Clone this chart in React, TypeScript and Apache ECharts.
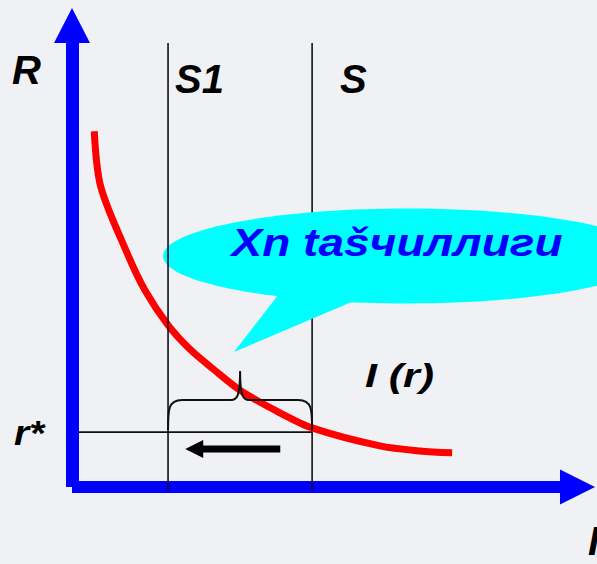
import React, { useEffect, useRef } from "react";
import * as echarts from "echarts";

// Red curve I(r): points in data units (x: 0..10, y: 0..10)
const curveX = [0.44, 0.57, 1.09, 1.44, 1.9, 2.33, 2.79, 3.32, 4.04, 4.75, 6.09, 6.88, 7.52];
const curveY = [7.71, 6.5, 5.07, 4.27, 3.51, 2.99, 2.56, 2.1, 1.65, 1.28, 0.89, 0.78, 0.74];

// Vertical markers S1 and S, and level r*
const markerNames = ["S1", "S"];
const markerX = [1.9, 4.75];
const markerTop = 9.62;
const markerBottom = -0.07;
const rStarLevel = 1.19;
const rStarStart = 0.12;

// Brace between S1 and S: [left, right, endY, barY, tipY]
const braceData = [[1.9, 4.75, 1.235, 1.885, 2.514]];
// Arrow pointing left: [fromX, toX, y]
const arrowData = [[4.12, 2.24, 0.823]];

const axisLabels = { y: "R", x: "I", level: "r*", curve: "I (r)" };
const bubbleText = "Xn tašчиллиги";

const FONT = "Liberation Sans, Arial, sans-serif";

export default function App() {
  const ref = useRef<HTMLDivElement>(null);
  useEffect(() => {
    if (!ref.current) return;
    const chart = echarts.init(ref.current, null, { renderer: "svg" });
    const curveData = curveX.map((x, i) => [x, curveY[i]]);

    const markerSeries = markerNames.map((name, i) => ({
      type: "line",
      name,
      data: [
        [markerX[i], markerBottom],
        [markerX[i], markerTop],
      ],
      symbol: "none",
      clip: false,
      z: name === "S1" ? 10 : 2,
      lineStyle: { color: "#111", width: 1.6 },
      silent: true,
    }));

    const braceSeries = {
      type: "custom",
      z: 4,
      clip: false,
      data: braceData,
      renderItem: (params: any, api: any) => {
        const l = api.coord([api.value(0), api.value(2)]);
        const r = api.coord([api.value(1), api.value(2)]);
        const bar = api.coord([api.value(0), api.value(3)])[1];
        const tip = api.coord([api.value(0), api.value(4)])[1];
        const cx = (l[0] + r[0]) / 2;
        const e = l[1];
        const d =
          `M${l[0]},${e} C${l[0]},${bar + 10} ${l[0]},${bar} ${l[0] + 14},${bar} ` +
          `L${cx - 9},${bar} C${cx - 3},${bar} ${cx},${bar - 4} ${cx},${tip} ` +
          `C${cx},${bar - 4} ${cx + 3},${bar} ${cx + 9},${bar} ` +
          `L${r[0] - 14},${bar} C${r[0]},${bar} ${r[0]},${bar + 10} ${r[0]},${e}`;
        return {
          type: "path",
          shape: { pathData: d },
          style: { stroke: "#111", fill: "none", lineWidth: 2 },
        };
      },
    };

    const arrowSeries = {
      type: "custom",
      z: 4,
      clip: false,
      data: arrowData,
      renderItem: (params: any, api: any) => {
        const a = api.coord([api.value(0), api.value(2)]);
        const b = api.coord([api.value(1), api.value(2)]);
        const head = 18;
        const hw = 9;
        const sw = 3.5;
        const y = a[1];
        const pts = [
          [a[0], y - sw],
          [b[0] + head, y - sw],
          [b[0] + head, y - hw],
          [b[0], y],
          [b[0] + head, y + hw],
          [b[0] + head, y + sw],
          [a[0], y + sw],
        ];
        return {
          type: "polygon",
          shape: { points: pts },
          style: { fill: "#000" },
        };
      },
    };

    const axisCommon = {
      type: "value",
      min: 0,
      max: 10,
      axisTick: { show: false },
      axisLabel: { show: false },
      splitLine: { show: false },
    };

    const textStyle = (size: number, color = "#000") => ({
      fontSize: size,
      fontWeight: "bold",
      fontStyle: "italic",
      fontFamily: FONT,
      fill: color,
    });

    chart.setOption({
      animation: false,
      backgroundColor: "#eff1f5",
      grid: { left: 72, right: 19.5, top: 25.5, bottom: 77, containLabel: false, outerBoundsMode: "none" },
      xAxis: {
        ...axisCommon,
        axisLine: {
          show: true,
          symbol: ["none", "triangle"],
          symbolSize: [35, 35],
          lineStyle: { color: "#0000ff", width: 12, cap: "butt" },
        },
      },
      yAxis: {
        ...axisCommon,
        axisLine: {
          show: true,
          symbol: ["none", "triangle"],
          symbolSize: [36, 35],
          lineStyle: { color: "#0000ff", width: 13, cap: "butt" },
        },
      },
      series: [
        ...markerSeries,
        {
          type: "line",
          name: "r*",
          data: [
            [rStarStart, rStarLevel],
            [markerX[1], rStarLevel],
          ],
          symbol: "none",
          z: 3,
          lineStyle: { color: "#111", width: 1.6 },
          silent: true,
        },
        {
          type: "line",
          name: "I (r)",
          data: curveData,
          smooth: 0.3,
          symbol: "none",
          z: 3,
          lineStyle: { color: "#ff0000", width: 7, cap: "butt" },
          silent: true,
        },
        braceSeries,
        arrowSeries,
      ],
      graphic: [
        {
          type: "ellipse",
          z: 5,
          shape: { cx: 407, cy: 256, rx: 244, ry: 47.5 },
          style: { fill: "#00ffff" },
          silent: true,
        },
        {
          type: "polygon",
          z: 5,
          shape: { points: [[282, 290], [368, 295], [234, 352]] },
          style: { fill: "#00ffff" },
          silent: true,
        },
        {
          type: "text",
          z: 20,
          x: 397,
          y: 242,
          scaleX: 1.18,
          style: { text: bubbleText, ...textStyle(39, "#0000ff"), align: "center", verticalAlign: "middle" },
        },
        {
          type: "text",
          z: 20,
          x: 12,
          y: 69.5,
          style: { text: axisLabels.y, ...textStyle(40), align: "left", verticalAlign: "middle" },
        },
        {
          type: "text",
          z: 20,
          x: 175,
          y: 78.5,
          style: { text: markerNames[0], ...textStyle(40), align: "left", verticalAlign: "middle" },
        },
        {
          type: "text",
          z: 20,
          x: 340,
          y: 78.5,
          style: { text: markerNames[1], ...textStyle(40), align: "left", verticalAlign: "middle" },
        },
        {
          type: "text",
          z: 20,
          x: 365,
          y: 375,
          scaleX: 1.3,
          style: { text: axisLabels.curve, ...textStyle(33), align: "left", verticalAlign: "middle" },
        },
        {
          type: "text",
          z: 20,
          x: 14,
          y: 433,
          scaleX: 1.08,
          style: { text: axisLabels.level, ...textStyle(36), align: "left", verticalAlign: "middle" },
        },
        {
          type: "text",
          z: 20,
          x: 588,
          y: 541,
          style: { text: axisLabels.x, ...textStyle(40), align: "left", verticalAlign: "middle" },
        },
      ],
    });
    return () => chart.dispose();
  }, []);
  return (
    <div
      ref={ref}
      style={{ position: "fixed", left: 0, top: 0, width: 597, height: 564 }}
    />
  );
}
